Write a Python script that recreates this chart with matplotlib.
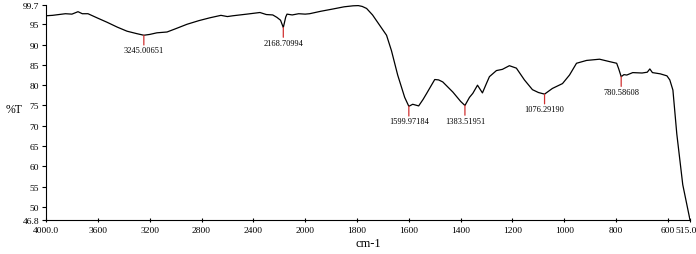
import numpy as np
import matplotlib
matplotlib.use("Agg")
import matplotlib.pyplot as plt
import matplotlib.transforms as mtransforms

# FTIR spectrum (wavenumber in cm-1, %T)
wavenumber = [4000, 3950, 3900, 3850, 3800, 3753, 3720, 3676, 3600, 3529,
              3450, 3375, 3300, 3245, 3200, 3144, 3066, 3000, 2912, 2820,
              2735, 2650, 2600, 2557, 2450, 2349, 2300, 2250, 2218, 2190,
              2168.7, 2150, 2140, 2100, 2050, 2000, 1983, 1940, 1894, 1850,
              1815, 1795, 1780, 1763, 1740, 1713, 1686, 1667, 1643, 1616, 1600,
              1585, 1562, 1545, 1531, 1500, 1485, 1469, 1430, 1400, 1383.5,
              1366, 1353, 1335, 1325, 1316, 1300, 1289, 1262, 1239, 1212,
              1185, 1154, 1123, 1100, 1076.3, 1046, 1007, 980, 953, 914,
              864, 825, 798, 790, 780.6, 770, 759, 736, 700, 680,
              670, 660, 630, 604, 593, 581, 566, 543, 515]
transmittance = [97.1, 97.2, 97.4, 97.6, 97.5, 98.1, 97.6, 97.6, 96.5, 95.5,
                 94.3, 93.3, 92.7, 92.3, 92.5, 92.9, 93.1, 93.9, 95.0, 95.9,
                 96.6, 97.2, 96.9, 97.1, 97.5, 97.9, 97.4, 97.3, 96.7, 96.0,
                 94.2, 96.8, 97.5, 97.3, 97.6, 97.5, 97.6, 98.2, 98.75, 99.3,
                 99.55, 99.6, 99.4, 98.9, 97.3, 94.8, 92.3, 88.5, 82.5, 77.0, 74.8,
                 75.3, 74.9, 76.5, 78.0, 81.4, 81.3, 80.8, 78.3, 76.0, 75.0,
                 77.0, 78.0, 80.0, 79.0, 78.1, 80.5, 82.1, 83.6, 83.9, 84.8,
                 84.2, 81.3, 78.9, 78.2, 77.8, 79.2, 80.4, 82.5, 85.4, 86.1,
                 86.4, 85.8, 85.4, 84.0, 82.1, 82.6, 82.5, 83.1, 83.0, 83.2,
                 84.0, 83.1, 82.8, 82.3, 81.3, 78.8, 68.0, 55.5, 46.8]

peak_positions = [3245.00651, 2168.70994, 1599.97184, 1383.51951, 1076.29190, 780.58608]
peak_values = [92.3, 94.2, 74.8, 75.0, 77.8, 82.1]
peak_labels = ["3245.00651", "2168.70994", "1599.97184", "1383.51951", "1076.29190", "780.58608"]

x_ticks = [4000, 3600, 3200, 2800, 2400, 2000, 1800, 1600, 1400, 1200, 1000, 800, 600, 515]
x_tick_labels = ["4000.0", "3600", "3200", "2800", "2400", "2000", "1800", "1600",
                 "1400", "1200", "1000", "800", "600", "515.0"]
y_ticks = [46.8, 50, 55, 60, 65, 70, 75, 80, 85, 90, 95, 99.7]
y_tick_labels = ["46.8", "50", "55", "60", "65", "70", "75", "80", "85", "90", "95", "99.7"]

plt.rcParams['font.family'] = ['Liberation Serif', 'DejaVu Serif']


# axis is compressed by 2x above 2000 cm-1
def forward(x):
    x = np.asarray(x, dtype=float)
    return np.where(x < 2000, x, 2000 + (x - 2000) / 2)


def inverse(u):
    u = np.asarray(u, dtype=float)
    return np.where(u < 2000, u, 2000 + (u - 2000) * 2)


fig = plt.figure(figsize=(6.96, 2.55), dpi=100)
ax = fig.add_axes([0.0661, 0.1333, 0.9253, 0.8424])
ax.set_xscale('function', functions=(forward, inverse))
ax.plot(wavenumber, transmittance, color='black', lw=0.9)

ax.set_xlim(4000, 515)
ax.set_ylim(46.8, 99.7)

# peak markers
for px, pv, lab in zip(peak_positions, peak_values, peak_labels):
    ax.annotate("", xy=(px, pv), xytext=(0, -7), textcoords='offset points',
                arrowprops=dict(arrowstyle='-', color='#d03030', lw=0.9,
                                shrinkA=0, shrinkB=0))
    ax.annotate(lab, xy=(px, pv), xytext=(0, -8), textcoords='offset points',
                ha='center', va='top', fontsize=6)

ax.set_xticks(x_ticks)
ax.set_xticklabels(x_tick_labels, fontsize=6.8)
ax.set_yticks(y_ticks)
ax.set_yticklabels(y_tick_labels, fontsize=6.8)
ax.minorticks_off()
ax.tick_params(axis='x', direction='inout', length=3, width=0.8, pad=3)
ax.tick_params(axis='y', direction='out', length=3, width=0.8, pad=2)

# the last label sits just to the left of its tick, as in the reference
last = ax.get_xticklabels()[-1]
last.set_transform(last.get_transform() +
                   mtransforms.ScaledTranslation(-3 / 72, 0, fig.dpi_scale_trans))

for side in ['top', 'right']:
    ax.spines[side].set_visible(False)
for side in ['left', 'bottom']:
    ax.spines[side].set_linewidth(0.8)

ax.set_xlabel("cm-1", fontsize=9, labelpad=2)
ax.set_ylabel("%T", fontsize=8.5, rotation=0, va='center', ha='center')
ax.yaxis.set_label_coords(-0.05, 0.515)

fig.savefig("out.png", dpi=100)
